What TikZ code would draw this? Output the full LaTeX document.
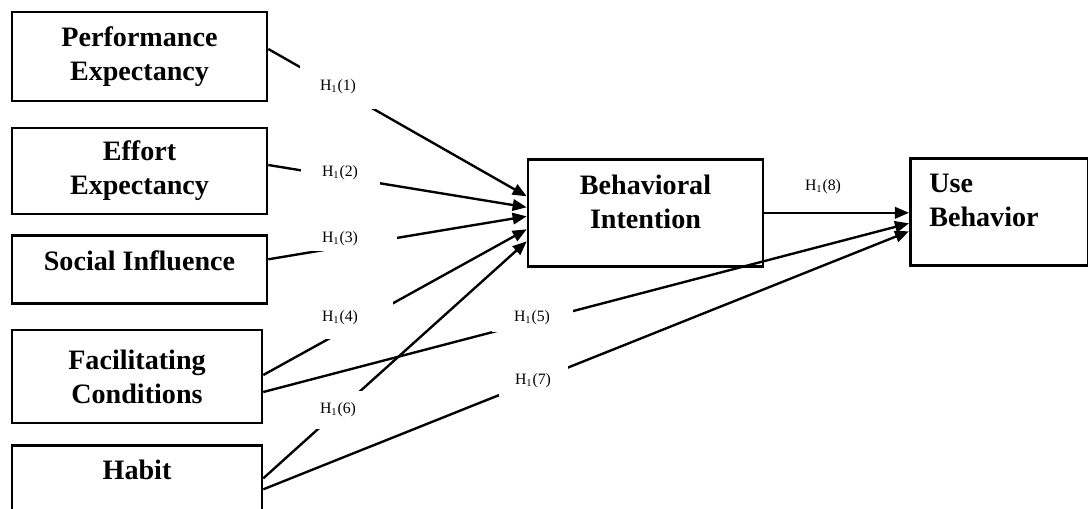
\documentclass[tikz,border=0pt]{standalone}
\usepackage{fontspec}
\setmainfont{Liberation Serif}
\usetikzlibrary{arrows.meta}

\begin{document}
\begin{tikzpicture}[x=0.02cm, y=-0.02cm,
	box/.style={draw, line width=1.5pt, inner sep=0pt, align=center, font=\fontsize{16}{19.3}\selectfont\bfseries},
	link/.style={line width=1.35pt, -{Triangle[length=8pt,width=6.5pt]}},
	hyp/.style={fill=white, inner sep=0pt, font=\fontsize{9}{10}\selectfont}]
	\useasboundingbox (0,0) rectangle (1088,509);
	\node[box, minimum width=5.1cm, minimum height=1.78cm] (pe) at (139.5,56.5) {Performance\\Expectancy};
	\node[box, minimum width=5.1cm, minimum height=1.72cm] (ee) at (139.5,171) {Effort\\Expectancy};
	\node[box, minimum width=5.1cm, text height=0.71cm, text depth=0.65cm, anchor=north] (si) at (139.5,234) {Social Influence};
	\node[box, minimum width=5cm, minimum height=1.86cm] (fc) at (137,376.5) {Facilitating\\Conditions};
	\node[box, minimum width=5cm, text height=0.69cm, text depth=1.17cm, anchor=north] (hb) at (137,444) {Habit};
	\node[box, minimum width=4.7cm, text height=1.39cm, text depth=0.75cm, anchor=north] (bi) at (645.5,158) {Behavioral\\Intention};
	\node[box, align=left, text width=2.8cm, inner xsep=0.38cm, text height=0.69cm, text depth=1.45cm, anchor=north west] (ub) at (909,157) {Use\\Behavior};
	\draw[link] ([yshift=0.15cm]pe.east) -- ([yshift=0.33cm]bi.west);
	\draw[link] ([yshift=0.12cm]ee.east) -- ([yshift=0.11cm]bi.west);
	\draw[link] ([yshift=0.2cm]si.east) -- ([yshift=-0.07cm]bi.west);
	\draw[link] ([yshift=0.03cm]fc.east) -- ([yshift=-0.33cm]bi.west);
	\draw[link] ([yshift=-0.31cm]fc.east) -- ([yshift=-0.23cm]ub.west);
	\draw[link] ([yshift=0.27cm]hb.east) -- ([yshift=-0.57cm]bi.west);
	\draw[link] ([yshift=0.05cm]hb.east) -- ([yshift=-0.39cm]ub.west);
	\draw[link] (bi.east) -- (bi.east -| ub.west);
	\node[hyp, inner xsep=0.4cm, inner ysep=0.3cm] (h1) at (338,87) {H\textsubscript{1}(1)};
	\node[hyp, inner xsep=0.43cm, inner ysep=0.12cm] (h2) at (340,173) {H\textsubscript{1}(2)};
	\node[hyp, inner xsep=0.77cm, inner ysep=0.1cm] (h3) at (340,239) {H\textsubscript{1}(3)};
	\node[hyp, inner xsep=0.69cm, inner ysep=0.27cm] (h4) at (340,318) {H\textsubscript{1}(4)};
	\node[hyp, inner xsep=0.45cm, inner ysep=0.14cm] (h5) at (532,318) {H\textsubscript{1}(5)};
	\node[hyp, inner xsep=0.12cm, inner ysep=0.24cm] (h6) at (338,410) {H\textsubscript{1}(6)};
	\node[hyp, inner xsep=0.33cm, inner ysep=0.16cm] (h7) at (533,381) {H\textsubscript{1}(7)};
	\node[hyp, inner xsep=0.05cm, inner ysep=0.05cm] (h8) at (823,187) {H\textsubscript{1}(8)};
\end{tikzpicture}
\end{document}
